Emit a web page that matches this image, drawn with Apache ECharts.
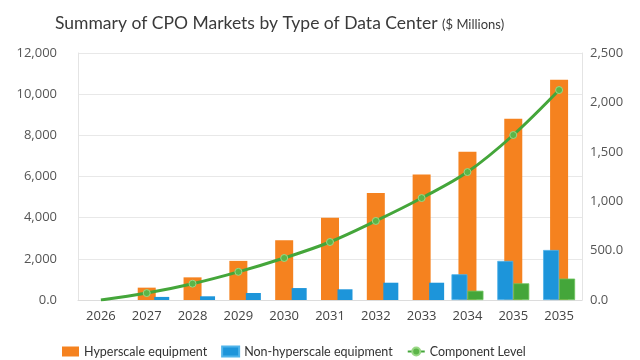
<!DOCTYPE html>
<html>
<head>
<meta charset="utf-8">
<script src="https://cdn.jsdelivr.net/npm/echarts@6/dist/echarts.min.js"></script>
<style>
html,body{margin:0;padding:0;background:#fff;}
#chart{width:640px;height:360px;}
</style>
</head>
<body>
<div id="chart"></div>
<script>
// ---- data ----
const categories = ['2026','2027','2028','2029','2030','2031','2032','2033','2034','2035','2035'];
const hyperscale = [null, 600, 1100, 1900, 2900, 4000, 5200, 6100, 7200, 8800, 10700];
const nonHyperscale = [null, 150, 180, 340, 580, 520, 840, 840, 1250, 1900, 2430];
const componentBars = [null, null, null, null, null, null, null, null, 450, 810, 1040];
const componentLevel = [0, 70, 165, 285, 425, 587, 800, 1032, 1295, 1670, 2125];
const leftTicks = [0, 2000, 4000, 6000, 8000, 10000, 12000];
const rightTicks = [0, 500, 1000, 1500, 2000, 2500];

// non-hyperscale bars sit beside the orange bar where there is no component bar,
// and in front of it (left of the green bar) where there is one
const nonHyperBeside = nonHyperscale.map((v, i) => componentBars[i] == null ? v : null);
const nonHyperFront = nonHyperscale.map((v, i) => componentBars[i] != null ? v : null);
const emptySlot = categories.map(() => null);

const ORANGE = '#F5821F';
const BLUE = '#1D95DA';
const GREEN = '#44A63A';
const FONT = '"Open Sans", "Noto Sans", sans-serif';
const FONT2 = 'Lato, "Open Sans", sans-serif';

function fmt(v) {
  if (v === 0) return '0.0';
  if (v < 1000) return v.toFixed(1);
  return v.toLocaleString('en-US');
}

const chart = echarts.init(document.getElementById('chart'), null, {renderer: 'canvas'});
chart.setOption({
  animation: false,
  backgroundColor: '#ffffff',
  textStyle: {fontFamily: FONT},
  title: {
    text: 'Summary of CPO Markets by Type of Data Center {s|($ Millions)}',
    left: 50,
    top: 9,
    textStyle: {
      fontFamily: FONT2,
      fontSize: 17.5,
      fontWeight: 'normal',
      color: '#3a3a3a',
      rich: {s: {fontFamily: FONT2, fontSize: 13, color: '#3a3a3a', padding: [3, 0, 0, 0]}}
    }
  },
  legend: {
    left: 57,
    top: 340,
    itemWidth: 17,
    itemHeight: 10,
    itemGap: 14,
    textStyle: {fontFamily: FONT2, fontSize: 12.5, color: '#333'},
    data: [
      {name: 'Hyperscale equipment', icon: 'rect'},
      {name: 'Non-hyperscale equipment', icon: 'rect'},
      {name: 'Component Level'}
    ]
  },
  grid: {left: 78, right: 58, top: 53, bottom: 60, containLabel: false},
  xAxis: [
    {
      type: 'category', data: categories,
      axisTick: {show: false},
      axisLine: {lineStyle: {color: '#dcdcdc'}},
      axisLabel: {fontFamily: FONT, fontSize: 13, color: '#444', margin: 10}
    },
    {type: 'category', data: categories, show: false},
    {type: 'category', data: categories, show: false}
  ],
  yAxis: [
    {
      type: 'value', min: 0, max: 12000, interval: 2000,
      axisLine: {show: true, lineStyle: {color: '#e4e4e4'}},
      axisTick: {show: false},
      splitLine: {lineStyle: {color: '#e8e8e8'}},
      axisLabel: {fontFamily: FONT, fontSize: 13, color: '#555', margin: 21,
        formatter: v => leftTicks.indexOf(v) >= 0 ? fmt(v) : ''}
    },
    {
      type: 'value', min: 0, max: 2500, interval: 500,
      axisLine: {show: true, lineStyle: {color: '#e4e4e4'}},
      axisTick: {show: false},
      splitLine: {show: false},
      axisLabel: {fontFamily: FONT, fontSize: 13, color: '#555', margin: 8,
        formatter: v => rightTicks.indexOf(v) >= 0 ? fmt(v) : ''}
    }
  ],
  series: [
    {
      name: 'Hyperscale equipment', type: 'bar', xAxisIndex: 0, yAxisIndex: 0,
      barWidth: 18, z: 2, data: hyperscale,
      itemStyle: {color: ORANGE}
    },
    {
      name: 'Non-hyperscale equipment', type: 'bar', xAxisIndex: 1, yAxisIndex: 0,
      barWidth: 16, barGap: 0, z: 3, data: nonHyperFront,
      itemStyle: {color: BLUE, borderColor: '#4fb3ea', borderWidth: 0.8}
    },
    {
      name: 'component-bars', type: 'bar', xAxisIndex: 1, yAxisIndex: 0,
      barWidth: 16, barGap: 0, z: 3, data: componentBars,
      itemStyle: {color: GREEN, borderColor: '#6cc45c', borderWidth: 0.8}
    },
    {
      name: 'slot', type: 'bar', xAxisIndex: 2, yAxisIndex: 0, silent: true,
      barWidth: 15, barGap: '100%', z: 3, data: emptySlot
    },
    {
      name: 'Non-hyperscale equipment', type: 'bar', xAxisIndex: 2, yAxisIndex: 0,
      barWidth: 15, barGap: '100%', z: 3, data: nonHyperBeside,
      itemStyle: {color: BLUE}
    },
    {
      name: 'Component Level', type: 'line', xAxisIndex: 0, yAxisIndex: 1,
      smooth: 0.35, z: 6, data: componentLevel,
      symbol: (v, p) => p.dataIndex === 0 ? 'none' : 'circle',
      symbolSize: 7,
      lineStyle: {color: GREEN, width: 3},
      itemStyle: {color: '#5bb548', borderColor: '#9ad886', borderWidth: 1}
    }
  ]
});
</script>
</body>
</html>
